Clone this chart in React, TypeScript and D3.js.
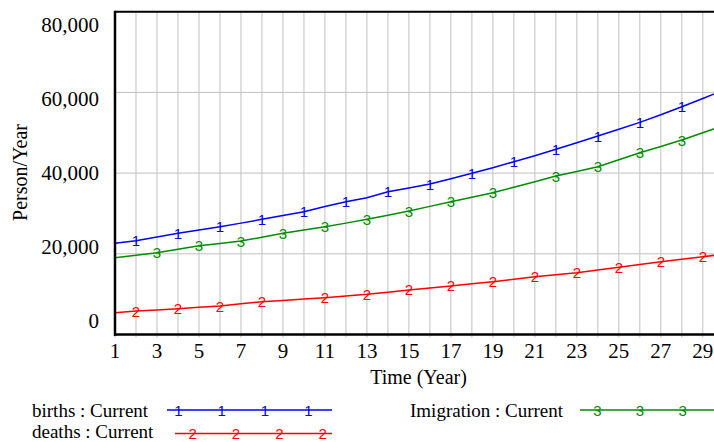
import React from "react";
import * as d3 from "d3";

const years = d3.range(1, 31);
const births = [22600, 23240, 24150, 25080, 25900, 26710, 27600, 28550, 29500, 30430, 31700, 32910, 33900, 35390, 36300, 37290, 38600, 39950, 41350, 42820, 44300, 45890, 47500, 49190, 50850, 52580, 54450, 56450, 58500, 60600];
const deaths = [5400, 5820, 6100, 6400, 6730, 7060, 7600, 8130, 8450, 8780, 9120, 9540, 9960, 10500, 11030, 11520, 12020, 12550, 13080, 13700, 14320, 14800, 15310, 15980, 16650, 17350, 18040, 18660, 19280, 19900];
const immigration = [19030, 19650, 20270, 21130, 22000, 22580, 23170, 24100, 25080, 25900, 26710, 27600, 28550, 29550, 30600, 31750, 32910, 34000, 35140, 36500, 37860, 39280, 40400, 41580, 43300, 45050, 46600, 48200, 50000, 51800];

const birthsMarks = [2, 4, 6, 8, 10, 12, 14, 16, 18, 20, 22, 24, 26, 28];
const deathsMarks = [2, 4, 6, 8, 11, 13, 15, 17, 19, 21, 23, 25, 27, 29];
const immigrationMarks = [3, 5, 7, 9, 11, 13, 15, 17, 19, 22, 24, 26, 28];

const xTicks = [1, 3, 5, 7, 9, 11, 13, 15, 17, 19, 21, 23, 25, 27, 29];
const yTicks = [0, 20000, 40000, 60000, 80000];
const yTickLabels = ["0", "20,000", "40,000", "60,000", "80,000"];

const series = [
  { name: "births : Current", values: births, marks: birthsMarks, color: "#0000ff", digit: "1" },
  { name: "deaths : Current", values: deaths, marks: deathsMarks, color: "#ff0000", digit: "2" },
  { name: "Imigration : Current", values: immigration, marks: immigrationMarks, color: "#008c00", digit: "3" },
];

const W = 714;
const H = 442;
const L = 115;
const T = 11.7;
const B = 334.5;

export default function App() {
  const x = d3.scaleLinear().domain([1, 30]).range([L, 723.8]);
  const y = d3.scaleLinear().domain([0, 80000]).range([B, T]);
  const yLab = d3.scaleLinear().domain([0, 80000]).range([328.3, 31.7]);
  const serif = "'Liberation Serif', 'Times New Roman', serif";
  const sans = "'Liberation Sans', Arial, sans-serif";

  const legend = [
    { s: series[0], tx: 32, ty: 416.7, lx0: 167, lx1: 332, ly: 410, mx: [178.3, 221.7, 265, 308.3] },
    { s: series[1], tx: 32, ty: 437.6, lx0: 175, lx1: 332, ly: 433.5, mx: [192.7, 236, 279.3, 322.7] },
    { s: series[2], tx: 410, ty: 416.7, lx0: 580, lx1: 720, ly: 410, mx: [597.3, 639.8, 682.7] },
  ];

  return (
    <svg width={W} height={H} style={{ position: "absolute", left: 0, top: 0, background: "#fff" }}>
      <defs>
        <clipPath id="plotclip">
          <rect x={L} y={T - 2} width={W - L} height={B - T + 4} />
        </clipPath>
      </defs>
      <rect x={0} y={0} width={W} height={H} fill="#fff" />
      {years.map((yr) => (
        <line key={"gx" + yr} x1={x(yr)} x2={x(yr)} y1={T} y2={B + 3} stroke="#c0c0c0" strokeWidth={1} />
      ))}
      {yTicks.map((v) => (
        <line key={"gy" + v} x1={L} x2={W} y1={y(v)} y2={y(v)} stroke="#c0c0c0" strokeWidth={1} />
      ))}
      <g clipPath="url(#plotclip)">
        {series.map((s) => {
          const line = d3
            .line<number>()
            .x((_, i) => x(years[i]))
            .y((v) => y(v));
          const interp = d3.scaleLinear().domain(years).range(s.values);
          return (
            <g key={s.name}>
              <path d={line(s.values) || ""} fill="none" stroke={s.color} strokeWidth={1.5} />
              {s.marks.map((m) => (
                <text
                  key={m}
                  x={x(m)}
                  y={y(interp(m)) + 5.5}
                  textAnchor="middle"
                  fontFamily={sans}
                  fontSize={15}
                  fill={s.color}
                >
                  {s.digit}
                </text>
              ))}
            </g>
          );
        })}
      </g>
      <line x1={L} x2={W} y1={T} y2={T} stroke="#000" strokeWidth={2} />
      <line x1={L} x2={L} y1={T - 1} y2={B + 1.5} stroke="#000" strokeWidth={2.5} />
      <line x1={L - 1} x2={W} y1={B} y2={B} stroke="#000" strokeWidth={2.5} />
      {xTicks.map((t) => (
        <text key={"xt" + t} x={x(t)} y={358} textAnchor="middle" fontFamily={serif} fontSize={21} fill="#000">
          {t}
        </text>
      ))}
      {yTicks.map((v, i) => (
        <text key={"yt" + v} x={99} y={yLab(v)} textAnchor="end" fontFamily={serif} fontSize={21} fill="#000">
          {yTickLabels[i]}
        </text>
      ))}
      <text x={418.5} y={383.5} textAnchor="middle" fontFamily={serif} fontSize={20} fill="#000">
        Time (Year)
      </text>
      <text
        transform="translate(26.5,172.5) rotate(-90)"
        textAnchor="middle"
        fontFamily={serif}
        fontSize={20}
        fill="#000"
      >
        Person/Year
      </text>
      {legend.map((g) => (
        <g key={g.s.name}>
          <text x={g.tx} y={g.ty} fontFamily={serif} fontSize={19} fill="#000">
            {g.s.name}
          </text>
          <line x1={g.lx0} x2={g.lx1} y1={g.ly} y2={g.ly} stroke={g.s.color} strokeWidth={1.5} />
          {g.mx.map((mx) => (
            <text key={mx} x={mx} y={g.ly + 5.5} textAnchor="middle" fontFamily={sans} fontSize={15} fill={g.s.color}>
              {g.s.digit}
            </text>
          ))}
        </g>
      ))}
    </svg>
  );
}
